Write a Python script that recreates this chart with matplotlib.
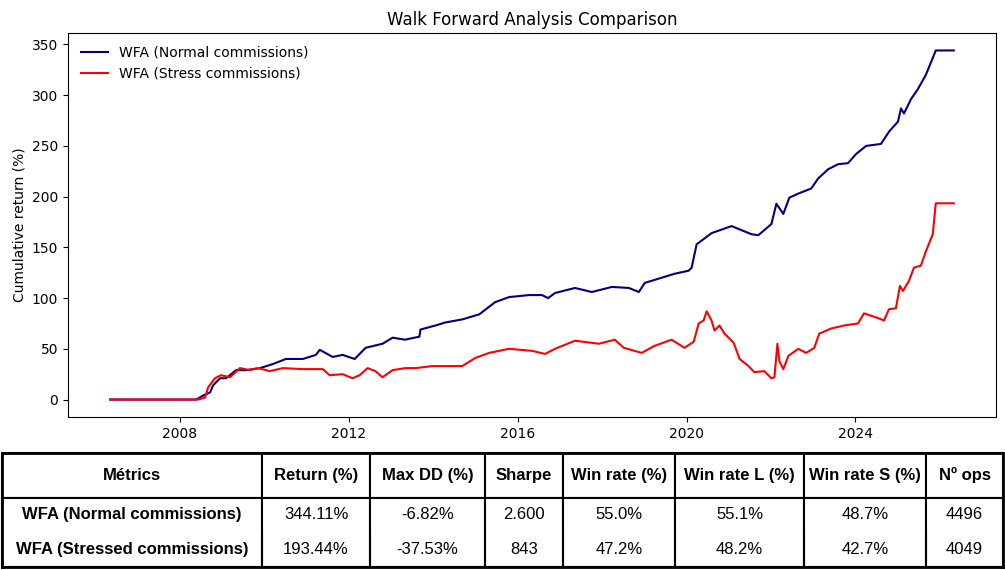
import matplotlib
matplotlib.use("Agg")
import matplotlib.pyplot as plt
import pandas as pd

# Curvas (puntos de control)
normal_dates = [
    "2006-05-08", "2008-05-21", "2008-07-20", "2008-09-18", "2008-10-14", "2008-12-14",
    "2009-02-04", "2009-05-01", "2009-07-26", "2009-11-24", "2010-03-16", "2010-07-06",
    "2010-11-30", "2011-03-22", "2011-04-25", "2011-08-15", "2011-11-09", "2012-02-21",
    "2012-05-26", "2012-10-19", "2013-01-14", "2013-05-01", "2013-09-03", "2013-09-12",
    "2014-01-20", "2014-04-16", "2014-09-09", "2015-02-03", "2015-06-20", "2015-10-19",
    "2016-04-10", "2016-07-30", "2016-09-20", "2016-11-19", "2017-05-11", "2017-10-04",
    "2018-03-26", "2018-08-20", "2018-11-14", "2019-01-05", "2019-04-01", "2019-09-20",
    "2020-01-19", "2020-02-14", "2020-03-28", "2020-08-04", "2021-01-24", "2021-07-15",
    "2021-09-13", "2022-01-04", "2022-02-16", "2022-04-17", "2022-06-08", "2022-08-24",
    "2022-12-14", "2023-02-13", "2023-05-10", "2023-08-04", "2023-10-29", "2024-01-06",
    "2024-04-02", "2024-08-09", "2024-10-17", "2025-01-03", "2025-01-29", "2025-02-24",
    "2025-04-25", "2025-06-24", "2025-09-01", "2025-11-26", "2026-05-01",
]
normal_values = [
    0, 0, 4, 7, 14, 21,
    21, 29, 29, 31, 35, 40,
    40, 44, 49, 42, 44, 40,
    51, 55, 61, 59, 62, 69,
    73, 76, 79, 84, 96, 101,
    103, 103, 100, 105, 110, 106,
    111, 110, 106, 115, 118, 124,
    127, 130, 153, 164, 171, 163,
    162, 173, 193, 183, 199, 203,
    208, 218, 227, 232, 233, 242,
    250, 252, 264, 274, 287, 282,
    296, 306, 320, 344.11, 344.11,
]

stress_dates = [
    "2006-05-08", "2008-06-07", "2008-08-06", "2008-09-01", "2008-10-31", "2008-12-22",
    "2009-03-10", "2009-06-04", "2009-08-29", "2009-11-07", "2010-02-18", "2010-06-10",
    "2010-11-30", "2011-05-21", "2011-07-20", "2011-11-09", "2012-02-03", "2012-04-04",
    "2012-06-12", "2012-08-19", "2012-10-19", "2013-01-14", "2013-05-06", "2013-07-31",
    "2013-12-25", "2014-09-09", "2014-12-30", "2015-04-30", "2015-10-19", "2016-05-05",
    "2016-08-25", "2016-11-19", "2017-05-11", "2017-12-03", "2018-04-20", "2018-07-07",
    "2018-12-09", "2019-04-01", "2019-08-25", "2019-12-14", "2020-03-03", "2020-04-15",
    "2020-05-28", "2020-06-23", "2020-08-04", "2020-08-30", "2020-10-12", "2020-11-24",
    "2021-02-11", "2021-04-04", "2021-06-20", "2021-08-10", "2021-11-04", "2022-01-04",
    "2022-01-30", "2022-02-25", "2022-03-14", "2022-04-17", "2022-05-31", "2022-08-24",
    "2022-11-01", "2023-01-10", "2023-02-22", "2023-06-05", "2023-09-25", "2024-01-23",
    "2024-03-15", "2024-06-27", "2024-09-04", "2024-10-17", "2024-12-16", "2025-01-20",
    "2025-02-15", "2025-04-08", "2025-05-21", "2025-07-20", "2025-09-01", "2025-10-31",
    "2025-11-26", "2026-05-01",
]
stress_values = [
    0, 0, 2, 12, 21, 24,
    22, 31, 29, 31, 28, 31,
    30, 30, 24, 25, 21, 24,
    31, 28, 22, 29, 31, 31,
    33, 33, 41, 46, 50, 48,
    45, 50, 58, 55, 59, 51,
    46, 53, 59, 51, 57, 75,
    78, 87, 78, 68, 73, 65,
    56, 40, 33, 27, 28, 21,
    22, 55, 38, 30, 43, 50,
    46, 51, 65, 70, 73, 75,
    85, 81, 78, 89, 90, 112,
    107, 117, 130, 132, 146, 163,
    193.44, 193.44,
]

# Tabla de métricas
col_labels = ["Métrics", "Return (%)", "Max DD (%)", "Sharpe", "Win rate (%)",
              "Win rate L (%)", "Win rate S (%)", "Nº ops"]
row_normal = ["WFA (Normal commissions)", "344.11%", "-6.82%", "2.600", "55.0%",
              "55.1%", "48.7%", "4496"]
row_stress = ["WFA (Stressed commissions)", "193.44%", "-37.53%", "843", "47.2%",
              "48.2%", "42.7%", "4049"]
col_widths = [260, 108, 115, 78, 112, 129, 122, 77]

fig = plt.figure(figsize=(10.05, 5.7), dpi=100)

# Gráfico de retorno acumulado
ax = fig.add_axes([68 / 1005, 1 - 417 / 570, 928 / 1005, 384 / 570])
ax.plot(pd.to_datetime(normal_dates), normal_values, color="navy", lw=1.5,
        label="WFA (Normal commissions)")
ax.plot(pd.to_datetime(stress_dates), stress_values, color="red", lw=1.5,
        label="WFA (Stress commissions)")
ax.set_title("Walk Forward Analysis Comparison")
ax.set_ylabel("Cumulative return (%)")
ax.legend(loc="upper left", frameon=False)

# Tabla debajo
tax = fig.add_axes([2 / 1005, 3 / 570, 1001 / 1005, 114 / 570])
tax.set_xticks([])
tax.set_yticks([])
for sp in tax.spines.values():
    sp.set_linewidth(2)

total = sum(col_widths)
table = tax.table(cellText=[row_normal, row_stress], colLabels=col_labels,
                  colWidths=[w / total for w in col_widths], cellLoc="center",
                  bbox=[0, 0, 1, 1])
table.auto_set_font_size(False)
table.set_fontsize(12)
for (r, c), cell in table.get_celld().items():
    cell.set_height(45 if r == 0 else 35)
    cell.set_linewidth(1.5)
    cell.get_text().set_fontfamily("Liberation Sans")
    if r == 0 or c == 0:
        cell.get_text().set_fontweight("bold")
    if r == 1:
        cell.visible_edges = "LRT"
    elif r == 2:
        cell.visible_edges = "LRB"

fig.savefig("out.png", dpi=100)
